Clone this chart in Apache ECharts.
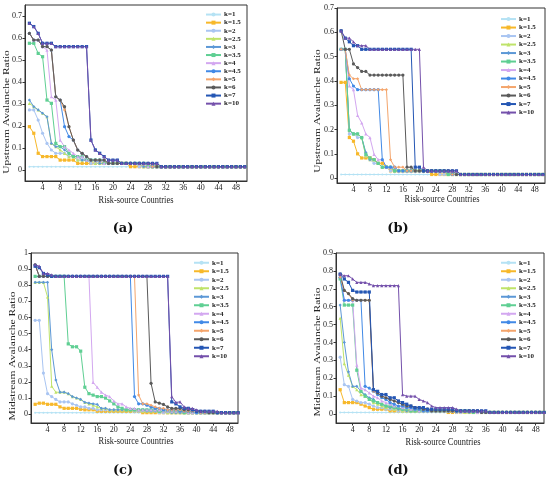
<!DOCTYPE html>
<html>
<head>
<meta charset="utf-8">
<script src="https://cdn.jsdelivr.net/npm/echarts/dist/echarts.min.js"></script>
<style>
  html, body { margin: 0; padding: 0; background: #fff; }
  #main { width: 550px; height: 485px; }
</style>
</head>
<body>
<div id="main"></div>
<script>
// legend names, colours and markers
const kLabels = ['k=1', 'k=1.5', 'k=2', 'k=2.5', 'k=3', 'k=3.5', 'k=4', 'k=4.5', 'k=5', 'k=6', 'k=7', 'k=10'];
const kColors = ['#b5e2f4', '#f7b82a', '#a9c5f2', '#bfe36a', '#5c98d6', '#5fcf93', '#d3a7f0', '#4189e6', '#f4a56c', '#5a5a5a', '#2456b4', '#7450ab'];
const kSymbols = ['circle', 'rect', 'circle', 'triangle', 'diamond', 'rect', 'triangle', 'circle', 'diamond', 'circle', 'rect', 'triangle'];

const countries = [1, 2, 3, 4, 5, 6, 7, 8, 9, 10,
  11, 12, 13, 14, 15, 16, 17, 18, 19, 20,
  21, 22, 23, 24, 25, 26, 27, 28, 29, 30,
  31, 32, 33, 34, 35, 36, 37, 38, 39, 40,
  41, 42, 43, 44, 45, 46, 47, 48, 49, 50];

const xTicks = [4, 8, 12, 16, 20, 24, 28, 32, 36, 40, 44, 48];
const upTicks = [0, 0.1, 0.2, 0.3, 0.4, 0.5, 0.6, 0.7];
const midTicksC = [0, 0.1, 0.2, 0.3, 0.4, 0.5, 0.6, 0.7, 0.8, 0.9, 1];
const midTicksD = [0, 0.1, 0.2, 0.3, 0.4, 0.5, 0.6, 0.7, 0.8, 0.9];

// ---- (a) upstream ----
const a_k1 = [0.015, 0.015, 0.015, 0.015, 0.015, 0.015, 0.015, 0.015, 0.015, 0.015,
  0.015, 0.015, 0.015, 0.015, 0.015, 0.015, 0.015, 0.015, 0.015, 0.015,
  0.015, 0.015, 0.015, 0.015, 0.015, 0.015, 0.015, 0.015, 0.015, 0.015,
  0.015, 0.015, 0.015, 0.015, 0.015, 0.015, 0.015, 0.015, 0.015, 0.015,
  0.015, 0.015, 0.015, 0.015, 0.015, 0.015, 0.015, 0.015, 0.015, 0.015];
const a_k15 = [0.197, 0.167, 0.076, 0.061, 0.061, 0.061, 0.061, 0.045, 0.045, 0.045,
  0.045, 0.03, 0.03, 0.03, 0.03, 0.03, 0.03, 0.03, 0.03, 0.03,
  0.03, 0.03, 0.03, 0.015, 0.015, 0.015, 0.015, 0.015, 0.015, 0.015,
  0.015, 0.015, 0.015, 0.015, 0.015, 0.015, 0.015, 0.015, 0.015, 0.015,
  0.015, 0.015, 0.015, 0.015, 0.015, 0.015, 0.015, 0.015, 0.015, 0.015];
const a_k2 = [0.273, 0.273, 0.227, 0.167, 0.121, 0.091, 0.076, 0.076, 0.076, 0.061,
  0.061, 0.045, 0.045, 0.045, 0.03, 0.03, 0.03, 0.03, 0.03, 0.03,
  0.03, 0.03, 0.03, 0.03, 0.03, 0.015, 0.015, 0.015, 0.015, 0.015,
  0.015, 0.015, 0.015, 0.015, 0.015, 0.015, 0.015, 0.015, 0.015, 0.015,
  0.015, 0.015, 0.015, 0.015, 0.015, 0.015, 0.015, 0.015, 0.015, 0.015];
const a_k25 = [0.303, 0.288, 0.273, 0.258, 0.242, 0.121, 0.106, 0.091, 0.076, 0.061,
  0.061, 0.045, 0.045, 0.045, 0.045, 0.03, 0.03, 0.03, 0.03, 0.03,
  0.03, 0.03, 0.03, 0.03, 0.03, 0.03, 0.015, 0.015, 0.015, 0.015,
  0.015, 0.015, 0.015, 0.015, 0.015, 0.015, 0.015, 0.015, 0.015, 0.015,
  0.015, 0.015, 0.015, 0.015, 0.015, 0.015, 0.015, 0.015, 0.015, 0.015];
const a_k3 = [0.318, 0.288, 0.273, 0.258, 0.242, 0.121, 0.106, 0.106, 0.091, 0.076,
  0.061, 0.061, 0.045, 0.045, 0.045, 0.045, 0.03, 0.03, 0.03, 0.03,
  0.03, 0.03, 0.03, 0.03, 0.03, 0.03, 0.015, 0.015, 0.015, 0.015,
  0.015, 0.015, 0.015, 0.015, 0.015, 0.015, 0.015, 0.015, 0.015, 0.015,
  0.015, 0.015, 0.015, 0.015, 0.015, 0.015, 0.015, 0.015, 0.015, 0.015];
const a_k35 = [0.576, 0.576, 0.53, 0.515, 0.318, 0.303, 0.121, 0.106, 0.106, 0.076,
  0.061, 0.061, 0.061, 0.045, 0.045, 0.045, 0.045, 0.03, 0.03, 0.03,
  0.03, 0.03, 0.03, 0.03, 0.03, 0.03, 0.03, 0.015, 0.015, 0.015,
  0.015, 0.015, 0.015, 0.015, 0.015, 0.015, 0.015, 0.015, 0.015, 0.015,
  0.015, 0.015, 0.015, 0.015, 0.015, 0.015, 0.015, 0.015, 0.015, 0.015];
const a_k4 = [0.621, 0.591, 0.591, 0.561, 0.545, 0.333, 0.318, 0.136, 0.106, 0.091,
  0.076, 0.061, 0.061, 0.045, 0.045, 0.045, 0.045, 0.03, 0.03, 0.03,
  0.03, 0.03, 0.03, 0.03, 0.03, 0.03, 0.03, 0.015, 0.015, 0.015,
  0.015, 0.015, 0.015, 0.015, 0.015, 0.015, 0.015, 0.015, 0.015, 0.015,
  0.015, 0.015, 0.015, 0.015, 0.015, 0.015, 0.015, 0.015, 0.015, 0.015];
const a_k45 = [0.621, 0.591, 0.591, 0.561, 0.561, 0.545, 0.333, 0.318, 0.197, 0.152,
  0.136, 0.091, 0.076, 0.061, 0.045, 0.045, 0.045, 0.045, 0.03, 0.03,
  0.03, 0.03, 0.03, 0.03, 0.03, 0.03, 0.03, 0.03, 0.015, 0.015,
  0.015, 0.015, 0.015, 0.015, 0.015, 0.015, 0.015, 0.015, 0.015, 0.015,
  0.015, 0.015, 0.015, 0.015, 0.015, 0.015, 0.015, 0.015, 0.015, 0.015];
const a_k5 = [0.621, 0.591, 0.591, 0.561, 0.561, 0.545, 0.333, 0.318, 0.273, 0.197,
  0.136, 0.091, 0.076, 0.061, 0.045, 0.045, 0.045, 0.045, 0.03, 0.03,
  0.03, 0.03, 0.03, 0.03, 0.03, 0.03, 0.03, 0.03, 0.015, 0.015,
  0.015, 0.015, 0.015, 0.015, 0.015, 0.015, 0.015, 0.015, 0.015, 0.015,
  0.015, 0.015, 0.015, 0.015, 0.015, 0.015, 0.015, 0.015, 0.015, 0.015];
const a_k6 = [0.621, 0.591, 0.591, 0.561, 0.561, 0.545, 0.333, 0.318, 0.288, 0.197,
  0.136, 0.091, 0.076, 0.061, 0.045, 0.045, 0.045, 0.045, 0.03, 0.03,
  0.03, 0.03, 0.03, 0.03, 0.03, 0.03, 0.03, 0.03, 0.03, 0.015,
  0.015, 0.015, 0.015, 0.015, 0.015, 0.015, 0.015, 0.015, 0.015, 0.015,
  0.015, 0.015, 0.015, 0.015, 0.015, 0.015, 0.015, 0.015, 0.015, 0.015];
const a_k7 = [0.667, 0.652, 0.621, 0.576, 0.576, 0.576, 0.561, 0.561, 0.561, 0.561,
  0.561, 0.561, 0.561, 0.561, 0.136, 0.091, 0.076, 0.061, 0.045, 0.045,
  0.045, 0.03, 0.03, 0.03, 0.03, 0.03, 0.03, 0.03, 0.03, 0.03,
  0.015, 0.015, 0.015, 0.015, 0.015, 0.015, 0.015, 0.015, 0.015, 0.015,
  0.015, 0.015, 0.015, 0.015, 0.015, 0.015, 0.015, 0.015, 0.015, 0.015];
const a_k10 = [0.667, 0.652, 0.621, 0.576, 0.576, 0.576, 0.561, 0.561, 0.561, 0.561,
  0.561, 0.561, 0.561, 0.561, 0.136, 0.091, 0.076, 0.061, 0.045, 0.045,
  0.045, 0.03, 0.03, 0.03, 0.03, 0.03, 0.03, 0.03, 0.03, 0.03,
  0.015, 0.015, 0.015, 0.015, 0.015, 0.015, 0.015, 0.015, 0.015, 0.015,
  0.015, 0.015, 0.015, 0.015, 0.015, 0.015, 0.015, 0.015, 0.015, 0.015];

// ---- (b) upstream ----
const b_k1 = [0.015, 0.015, 0.015, 0.015, 0.015, 0.015, 0.015, 0.015, 0.015, 0.015,
  0.015, 0.015, 0.015, 0.015, 0.015, 0.015, 0.015, 0.015, 0.015, 0.015,
  0.015, 0.015, 0.015, 0.015, 0.015, 0.015, 0.015, 0.015, 0.015, 0.015,
  0.015, 0.015, 0.015, 0.015, 0.015, 0.015, 0.015, 0.015, 0.015, 0.015,
  0.015, 0.015, 0.015, 0.015, 0.015, 0.015, 0.015, 0.015, 0.015, 0.015];
const b_k15 = [0.394, 0.394, 0.167, 0.152, 0.1, 0.083, 0.083, 0.083, 0.076, 0.061,
  0.061, 0.045, 0.03, 0.03, 0.03, 0.03, 0.03, 0.03, 0.03, 0.03,
  0.03, 0.03, 0.015, 0.015, 0.015, 0.015, 0.015, 0.015, 0.015, 0.015,
  0.015, 0.015, 0.015, 0.015, 0.015, 0.015, 0.015, 0.015, 0.015, 0.015,
  0.015, 0.015, 0.015, 0.015, 0.015, 0.015, 0.015, 0.015, 0.015, 0.015];
const b_k2 = [0.53, 0.53, 0.182, 0.182, 0.167, 0.167, 0.091, 0.076, 0.061, 0.061,
  0.045, 0.045, 0.03, 0.03, 0.03, 0.03, 0.03, 0.03, 0.03, 0.03,
  0.03, 0.03, 0.03, 0.03, 0.015, 0.015, 0.015, 0.015, 0.015, 0.015,
  0.015, 0.015, 0.015, 0.015, 0.015, 0.015, 0.015, 0.015, 0.015, 0.015,
  0.015, 0.015, 0.015, 0.015, 0.015, 0.015, 0.015, 0.015, 0.015, 0.015];
const b_k25 = [0.53, 0.53, 0.197, 0.182, 0.182, 0.167, 0.091, 0.076, 0.076, 0.061,
  0.045, 0.045, 0.045, 0.03, 0.03, 0.03, 0.03, 0.03, 0.03, 0.03,
  0.03, 0.03, 0.03, 0.03, 0.03, 0.03, 0.015, 0.015, 0.015, 0.015,
  0.015, 0.015, 0.015, 0.015, 0.015, 0.015, 0.015, 0.015, 0.015, 0.015,
  0.015, 0.015, 0.015, 0.015, 0.015, 0.015, 0.015, 0.015, 0.015, 0.015];
const b_k3 = [0.53, 0.53, 0.197, 0.182, 0.182, 0.167, 0.106, 0.076, 0.076, 0.061,
  0.045, 0.045, 0.045, 0.03, 0.03, 0.03, 0.03, 0.03, 0.03, 0.03,
  0.03, 0.03, 0.03, 0.03, 0.03, 0.03, 0.015, 0.015, 0.015, 0.015,
  0.015, 0.015, 0.015, 0.015, 0.015, 0.015, 0.015, 0.015, 0.015, 0.015,
  0.015, 0.015, 0.015, 0.015, 0.015, 0.015, 0.015, 0.015, 0.015, 0.015];
const b_k35 = [0.53, 0.53, 0.197, 0.182, 0.182, 0.167, 0.098, 0.083, 0.076, 0.061,
  0.045, 0.045, 0.045, 0.03, 0.03, 0.03, 0.03, 0.03, 0.03, 0.03,
  0.03, 0.03, 0.03, 0.03, 0.03, 0.03, 0.015, 0.015, 0.015, 0.015,
  0.015, 0.015, 0.015, 0.015, 0.015, 0.015, 0.015, 0.015, 0.015, 0.015,
  0.015, 0.015, 0.015, 0.015, 0.015, 0.015, 0.015, 0.015, 0.015, 0.015];
const b_k4 = [0.53, 0.53, 0.379, 0.364, 0.258, 0.227, 0.182, 0.167, 0.098, 0.076,
  0.076, 0.045, 0.045, 0.045, 0.03, 0.03, 0.03, 0.03, 0.03, 0.03,
  0.03, 0.03, 0.03, 0.03, 0.03, 0.03, 0.03, 0.015, 0.015, 0.015,
  0.015, 0.015, 0.015, 0.015, 0.015, 0.015, 0.015, 0.015, 0.015, 0.015,
  0.015, 0.015, 0.015, 0.015, 0.015, 0.015, 0.015, 0.015, 0.015, 0.015];
const b_k45 = [0.53, 0.53, 0.409, 0.379, 0.364, 0.364, 0.364, 0.364, 0.364, 0.364,
  0.076, 0.045, 0.045, 0.045, 0.03, 0.03, 0.03, 0.03, 0.03, 0.03,
  0.03, 0.03, 0.03, 0.03, 0.03, 0.03, 0.03, 0.015, 0.015, 0.015,
  0.015, 0.015, 0.015, 0.015, 0.015, 0.015, 0.015, 0.015, 0.015, 0.015,
  0.015, 0.015, 0.015, 0.015, 0.015, 0.015, 0.015, 0.015, 0.015, 0.015];
const b_k5 = [0.53, 0.53, 0.424, 0.409, 0.409, 0.364, 0.364, 0.364, 0.364, 0.364,
  0.364, 0.364, 0.076, 0.045, 0.045, 0.045, 0.03, 0.03, 0.03, 0.03,
  0.03, 0.03, 0.03, 0.03, 0.03, 0.03, 0.03, 0.015, 0.015, 0.015,
  0.015, 0.015, 0.015, 0.015, 0.015, 0.015, 0.015, 0.015, 0.015, 0.015,
  0.015, 0.015, 0.015, 0.015, 0.015, 0.015, 0.015, 0.015, 0.015, 0.015];
const b_k6 = [0.606, 0.53, 0.53, 0.47, 0.455, 0.439, 0.439, 0.424, 0.424, 0.424,
  0.424, 0.424, 0.424, 0.424, 0.424, 0.424, 0.045, 0.045, 0.03, 0.03,
  0.03, 0.03, 0.03, 0.03, 0.03, 0.03, 0.03, 0.03, 0.015, 0.015,
  0.015, 0.015, 0.015, 0.015, 0.015, 0.015, 0.015, 0.015, 0.015, 0.015,
  0.015, 0.015, 0.015, 0.015, 0.015, 0.015, 0.015, 0.015, 0.015, 0.015];
const b_k7 = [0.606, 0.576, 0.561, 0.545, 0.545, 0.53, 0.53, 0.53, 0.53, 0.53,
  0.53, 0.53, 0.53, 0.53, 0.53, 0.53, 0.53, 0.53, 0.045, 0.045,
  0.03, 0.03, 0.03, 0.03, 0.03, 0.03, 0.03, 0.03, 0.03, 0.015,
  0.015, 0.015, 0.015, 0.015, 0.015, 0.015, 0.015, 0.015, 0.015, 0.015,
  0.015, 0.015, 0.015, 0.015, 0.015, 0.015, 0.015, 0.015, 0.015, 0.015];
const b_k10 = [0.606, 0.576, 0.576, 0.561, 0.545, 0.545, 0.545, 0.53, 0.53, 0.53,
  0.53, 0.53, 0.53, 0.53, 0.53, 0.53, 0.53, 0.53, 0.53, 0.53,
  0.045, 0.03, 0.03, 0.03, 0.03, 0.03, 0.03, 0.03, 0.03, 0.015,
  0.015, 0.015, 0.015, 0.015, 0.015, 0.015, 0.015, 0.015, 0.015, 0.015,
  0.015, 0.015, 0.015, 0.015, 0.015, 0.015, 0.015, 0.015, 0.015, 0.015];

// ---- (c) midstream ----
const c_k1 = [0.009, 0.009, 0.009, 0.009, 0.009, 0.009, 0.009, 0.009, 0.009, 0.009,
  0.009, 0.009, 0.009, 0.009, 0.009, 0.009, 0.009, 0.009, 0.009, 0.009,
  0.009, 0.009, 0.009, 0.009, 0.009, 0.009, 0.009, 0.009, 0.009, 0.009,
  0.009, 0.009, 0.009, 0.009, 0.009, 0.009, 0.009, 0.009, 0.009, 0.009,
  0.009, 0.009, 0.009, 0.009, 0.009, 0.009, 0.009, 0.009, 0.009, 0.009];
const c_k15 = [0.061, 0.068, 0.068, 0.061, 0.061, 0.061, 0.045, 0.036, 0.036, 0.036,
  0.036, 0.03, 0.027, 0.027, 0.027, 0.018, 0.018, 0.018, 0.018, 0.018,
  0.018, 0.018, 0.018, 0.018, 0.018, 0.018, 0.009, 0.009, 0.009, 0.009,
  0.009, 0.009, 0.009, 0.009, 0.009, 0.009, 0.009, 0.009, 0.009, 0.009,
  0.009, 0.009, 0.009, 0.009, 0.009, 0.009, 0.009, 0.009, 0.009, 0.009];
const c_k2 = [0.582, 0.582, 0.255, 0.127, 0.109, 0.091, 0.076, 0.076, 0.076, 0.064,
  0.055, 0.045, 0.045, 0.036, 0.036, 0.027, 0.027, 0.027, 0.027, 0.027,
  0.027, 0.027, 0.027, 0.027, 0.018, 0.018, 0.018, 0.018, 0.018, 0.018,
  0.009, 0.009, 0.009, 0.009, 0.009, 0.009, 0.009, 0.009, 0.009, 0.009,
  0.009, 0.009, 0.009, 0.009, 0.009, 0.009, 0.009, 0.009, 0.009, 0.009];
const c_k25 = [0.818, 0.818, 0.818, 0.727, 0.173, 0.136, 0.136, 0.136, 0.127, 0.109,
  0.1, 0.091, 0.073, 0.064, 0.055, 0.045, 0.036, 0.036, 0.027, 0.027,
  0.027, 0.027, 0.027, 0.027, 0.027, 0.027, 0.018, 0.018, 0.018, 0.018,
  0.018, 0.018, 0.009, 0.009, 0.009, 0.009, 0.009, 0.009, 0.009, 0.009,
  0.009, 0.009, 0.009, 0.009, 0.009, 0.009, 0.009, 0.009, 0.009, 0.009];
const c_k3 = [0.818, 0.818, 0.818, 0.818, 0.4, 0.212, 0.136, 0.136, 0.127, 0.109,
  0.1, 0.091, 0.073, 0.068, 0.064, 0.06, 0.036, 0.036, 0.027, 0.027,
  0.027, 0.027, 0.027, 0.027, 0.027, 0.027, 0.027, 0.018, 0.018, 0.018,
  0.018, 0.018, 0.018, 0.009, 0.009, 0.009, 0.009, 0.009, 0.009, 0.009,
  0.009, 0.009, 0.009, 0.009, 0.009, 0.009, 0.009, 0.009, 0.009, 0.009];
const c_k35 = [0.855, 0.855, 0.855, 0.855, 0.855, 0.855, 0.855, 0.855, 0.436, 0.418,
  0.418, 0.391, 0.167, 0.127, 0.118, 0.109, 0.109, 0.1, 0.082, 0.064,
  0.045, 0.036, 0.027, 0.027, 0.027, 0.027, 0.027, 0.027, 0.027, 0.027,
  0.018, 0.018, 0.018, 0.018, 0.018, 0.018, 0.009, 0.009, 0.009, 0.009,
  0.009, 0.009, 0.009, 0.009, 0.009, 0.009, 0.009, 0.009, 0.009, 0.009];
const c_k4 = [0.927, 0.855, 0.855, 0.855, 0.855, 0.855, 0.855, 0.855, 0.855, 0.855,
  0.855, 0.855, 0.855, 0.855, 0.197, 0.167, 0.136, 0.118, 0.109, 0.082,
  0.064, 0.064, 0.045, 0.036, 0.036, 0.027, 0.027, 0.027, 0.027, 0.027,
  0.027, 0.018, 0.018, 0.018, 0.018, 0.018, 0.018, 0.009, 0.009, 0.009,
  0.009, 0.009, 0.009, 0.009, 0.009, 0.009, 0.009, 0.009, 0.009, 0.009];
const c_k45 = [0.927, 0.855, 0.855, 0.855, 0.855, 0.855, 0.855, 0.855, 0.855, 0.855,
  0.855, 0.855, 0.855, 0.855, 0.855, 0.855, 0.855, 0.855, 0.855, 0.855,
  0.855, 0.855, 0.855, 0.855, 0.109, 0.064, 0.064, 0.055, 0.045, 0.036,
  0.036, 0.027, 0.027, 0.027, 0.027, 0.018, 0.018, 0.018, 0.018, 0.009,
  0.009, 0.009, 0.009, 0.009, 0.009, 0.009, 0.009, 0.009, 0.009, 0.009];
const c_k5 = [0.927, 0.855, 0.855, 0.855, 0.855, 0.855, 0.855, 0.855, 0.855, 0.855,
  0.855, 0.855, 0.855, 0.855, 0.855, 0.855, 0.855, 0.855, 0.855, 0.855,
  0.855, 0.855, 0.855, 0.855, 0.855, 0.118, 0.064, 0.064, 0.055, 0.045,
  0.036, 0.036, 0.027, 0.027, 0.027, 0.027, 0.018, 0.018, 0.018, 0.018,
  0.009, 0.009, 0.009, 0.009, 0.009, 0.009, 0.009, 0.009, 0.009, 0.009];
const c_k6 = [0.927, 0.855, 0.855, 0.855, 0.855, 0.855, 0.855, 0.855, 0.855, 0.855,
  0.855, 0.855, 0.855, 0.855, 0.855, 0.855, 0.855, 0.855, 0.855, 0.855,
  0.855, 0.855, 0.855, 0.855, 0.855, 0.855, 0.855, 0.855, 0.191, 0.076,
  0.068, 0.06, 0.045, 0.036, 0.036, 0.036, 0.027, 0.027, 0.027, 0.018,
  0.018, 0.018, 0.009, 0.009, 0.009, 0.009, 0.009, 0.009, 0.009, 0.009];
const c_k7 = [0.918, 0.909, 0.873, 0.864, 0.855, 0.855, 0.855, 0.855, 0.855, 0.855,
  0.855, 0.855, 0.855, 0.855, 0.855, 0.855, 0.855, 0.855, 0.855, 0.855,
  0.855, 0.855, 0.855, 0.855, 0.855, 0.855, 0.855, 0.855, 0.855, 0.855,
  0.855, 0.855, 0.855, 0.076, 0.064, 0.045, 0.036, 0.036, 0.027, 0.018,
  0.018, 0.018, 0.018, 0.018, 0.009, 0.009, 0.009, 0.009, 0.009, 0.009];
const c_k10 = [0.927, 0.918, 0.873, 0.873, 0.864, 0.855, 0.855, 0.855, 0.855, 0.855,
  0.855, 0.855, 0.855, 0.855, 0.855, 0.855, 0.855, 0.855, 0.855, 0.855,
  0.855, 0.855, 0.855, 0.855, 0.855, 0.855, 0.855, 0.855, 0.855, 0.855,
  0.855, 0.855, 0.855, 0.109, 0.073, 0.076, 0.045, 0.036, 0.036, 0.027,
  0.018, 0.018, 0.018, 0.018, 0.018, 0.009, 0.009, 0.009, 0.009, 0.009];

// ---- (d) midstream ----
const d_k1 = [0.009, 0.009, 0.009, 0.009, 0.009, 0.009, 0.009, 0.009, 0.009, 0.009,
  0.009, 0.009, 0.009, 0.009, 0.009, 0.009, 0.009, 0.009, 0.009, 0.009,
  0.009, 0.009, 0.009, 0.009, 0.009, 0.009, 0.009, 0.009, 0.009, 0.009,
  0.009, 0.009, 0.009, 0.009, 0.009, 0.009, 0.009, 0.009, 0.009, 0.009,
  0.009, 0.009, 0.009, 0.009, 0.009, 0.009, 0.009, 0.009, 0.009, 0.009];
const d_k15 = [0.136, 0.064, 0.064, 0.064, 0.064, 0.055, 0.045, 0.036, 0.027, 0.027,
  0.027, 0.027, 0.018, 0.018, 0.018, 0.018, 0.018, 0.018, 0.018, 0.018,
  0.018, 0.018, 0.018, 0.018, 0.018, 0.018, 0.009, 0.009, 0.009, 0.009,
  0.009, 0.009, 0.009, 0.009, 0.009, 0.009, 0.009, 0.009, 0.009, 0.009,
  0.009, 0.009, 0.009, 0.009, 0.009, 0.009, 0.009, 0.009, 0.009, 0.009];
const d_k2 = [0.318, 0.164, 0.155, 0.082, 0.073, 0.064, 0.064, 0.055, 0.045, 0.036,
  0.036, 0.027, 0.027, 0.027, 0.018, 0.018, 0.018, 0.018, 0.018, 0.018,
  0.018, 0.018, 0.018, 0.018, 0.018, 0.018, 0.018, 0.018, 0.009, 0.009,
  0.009, 0.009, 0.009, 0.009, 0.009, 0.009, 0.009, 0.009, 0.009, 0.009,
  0.009, 0.009, 0.009, 0.009, 0.009, 0.009, 0.009, 0.009, 0.009, 0.009];
const d_k25 = [0.536, 0.282, 0.218, 0.155, 0.136, 0.109, 0.1, 0.082, 0.064, 0.055,
  0.045, 0.036, 0.036, 0.027, 0.027, 0.018, 0.018, 0.018, 0.018, 0.018,
  0.018, 0.018, 0.018, 0.018, 0.018, 0.018, 0.018, 0.018, 0.018, 0.018,
  0.009, 0.009, 0.009, 0.009, 0.009, 0.009, 0.009, 0.009, 0.009, 0.009,
  0.009, 0.009, 0.009, 0.009, 0.009, 0.009, 0.009, 0.009, 0.009, 0.009];
const d_k3 = [0.609, 0.4, 0.236, 0.155, 0.155, 0.127, 0.109, 0.091, 0.082, 0.064,
  0.055, 0.045, 0.036, 0.036, 0.027, 0.027, 0.018, 0.018, 0.018, 0.018,
  0.018, 0.018, 0.018, 0.018, 0.018, 0.018, 0.018, 0.018, 0.018, 0.018,
  0.018, 0.009, 0.009, 0.009, 0.009, 0.009, 0.009, 0.009, 0.009, 0.009,
  0.009, 0.009, 0.009, 0.009, 0.009, 0.009, 0.009, 0.009, 0.009, 0.009];
const d_k35 = [0.755, 0.609, 0.609, 0.609, 0.245, 0.127, 0.1, 0.082, 0.073, 0.064,
  0.055, 0.045, 0.045, 0.036, 0.036, 0.027, 0.027, 0.018, 0.018, 0.018,
  0.018, 0.018, 0.018, 0.018, 0.018, 0.018, 0.018, 0.018, 0.018, 0.018,
  0.018, 0.018, 0.009, 0.009, 0.009, 0.009, 0.009, 0.009, 0.009, 0.009,
  0.009, 0.009, 0.009, 0.009, 0.009, 0.009, 0.009, 0.009, 0.009, 0.009];
const d_k4 = [0.782, 0.636, 0.636, 0.636, 0.273, 0.145, 0.136, 0.118, 0.1, 0.091,
  0.073, 0.064, 0.055, 0.045, 0.045, 0.036, 0.036, 0.027, 0.027, 0.018,
  0.018, 0.018, 0.018, 0.018, 0.018, 0.018, 0.018, 0.018, 0.018, 0.018,
  0.018, 0.018, 0.018, 0.009, 0.009, 0.009, 0.009, 0.009, 0.009, 0.009,
  0.009, 0.009, 0.009, 0.009, 0.009, 0.009, 0.009, 0.009, 0.009, 0.009];
const d_k45 = [0.764, 0.636, 0.636, 0.636, 0.636, 0.636, 0.155, 0.145, 0.127, 0.109,
  0.091, 0.082, 0.064, 0.055, 0.045, 0.045, 0.036, 0.036, 0.027, 0.027,
  0.018, 0.018, 0.018, 0.018, 0.018, 0.018, 0.018, 0.018, 0.018, 0.018,
  0.018, 0.018, 0.018, 0.018, 0.009, 0.009, 0.009, 0.009, 0.009, 0.009,
  0.009, 0.009, 0.009, 0.009, 0.009, 0.009, 0.009, 0.009, 0.009, 0.009];
const d_k5 = [0.764, 0.691, 0.673, 0.636, 0.636, 0.636, 0.636, 0.636, 0.127, 0.118,
  0.1, 0.091, 0.082, 0.073, 0.064, 0.055, 0.045, 0.045, 0.036, 0.036,
  0.027, 0.027, 0.018, 0.018, 0.018, 0.018, 0.018, 0.018, 0.018, 0.018,
  0.018, 0.018, 0.018, 0.018, 0.009, 0.009, 0.009, 0.009, 0.009, 0.009,
  0.009, 0.009, 0.009, 0.009, 0.009, 0.009, 0.009, 0.009, 0.009, 0.009];
const d_k6 = [0.782, 0.691, 0.673, 0.645, 0.636, 0.636, 0.636, 0.636, 0.136, 0.118,
  0.1, 0.091, 0.082, 0.073, 0.064, 0.055, 0.045, 0.045, 0.036, 0.036,
  0.027, 0.027, 0.018, 0.018, 0.018, 0.018, 0.018, 0.018, 0.018, 0.018,
  0.018, 0.018, 0.018, 0.018, 0.009, 0.009, 0.009, 0.009, 0.009, 0.009,
  0.009, 0.009, 0.009, 0.009, 0.009, 0.009, 0.009, 0.009, 0.009, 0.009];
const d_k7 = [0.782, 0.755, 0.736, 0.691, 0.682, 0.682, 0.682, 0.682, 0.136, 0.127,
  0.109, 0.109, 0.091, 0.091, 0.073, 0.064, 0.055, 0.045, 0.036, 0.036,
  0.036, 0.027, 0.027, 0.027, 0.027, 0.027, 0.027, 0.027, 0.018, 0.018,
  0.018, 0.018, 0.018, 0.018, 0.018, 0.018, 0.009, 0.009, 0.009, 0.009,
  0.009, 0.009, 0.009, 0.009, 0.009, 0.009, 0.009, 0.009, 0.009, 0.009];
const d_k10 = [0.782, 0.773, 0.773, 0.755, 0.736, 0.736, 0.736, 0.727, 0.718, 0.718,
  0.718, 0.718, 0.718, 0.718, 0.718, 0.109, 0.1, 0.1, 0.1, 0.082,
  0.073, 0.064, 0.045, 0.036, 0.036, 0.036, 0.036, 0.036, 0.027, 0.018,
  0.018, 0.018, 0.018, 0.018, 0.018, 0.018, 0.009, 0.009, 0.009, 0.009,
  0.009, 0.009, 0.009, 0.009, 0.009, 0.009, 0.009, 0.009, 0.009, 0.009];

const panelA = [a_k1, a_k15, a_k2, a_k25, a_k3, a_k35, a_k4, a_k45, a_k5, a_k6, a_k7, a_k10];
const panelB = [b_k1, b_k15, b_k2, b_k25, b_k3, b_k35, b_k4, b_k45, b_k5, b_k6, b_k7, b_k10];
const panelC = [c_k1, c_k15, c_k2, c_k25, c_k3, c_k35, c_k4, c_k45, c_k5, c_k6, c_k7, c_k10];
const panelD = [d_k1, d_k15, d_k2, d_k25, d_k3, d_k35, d_k4, d_k45, d_k5, d_k6, d_k7, d_k10];

const serif = 'Liberation Serif';
const axisColor = '#333';

// one entry per sub-figure
const panels = [
  { data: panelA, grid: { left: 25, top: 5, width: 222, height: 176 }, xMax: 50.5, yMin: -0.05, yMax: 0.75, yTicks: upTicks,
    yTitle: 'Upstream Avalanche Ratio', yt: [7, 112], xt: [136, 200], tag: '(a)', tg: [123, 229], legend: [205, 10.5, 8.1] },
  { data: panelB, grid: { left: 337, top: 8, width: 208, height: 175 }, xMax: 50.5, yMin: -0.02, yMax: 0.7, yTicks: upTicks,
    yTitle: 'Upstream Avalanche Ratio', yt: [318, 111], xt: [442, 199], tag: '(b)', tg: [398, 229], legend: [500, 14.8, 8.5] },
  { data: panelC, grid: { left: 31, top: 253, width: 207, height: 170 }, xMax: 50, yMin: -0.055, yMax: 1, yTicks: midTicksC,
    yTitle: 'Midstream Avalanche Ratio', yt: [13, 356], xt: [136, 441.5], tag: '(c)', tg: [123, 471], legend: [193, 258.5, 8.5] },
  { data: panelD, grid: { left: 336, top: 253, width: 208, height: 170 }, xMax: 50, yMin: -0.05, yMax: 0.9, yTicks: midTicksD,
    yTitle: 'Midstream Avalanche Ratio', yt: [318, 352], xt: [443, 442], tag: '(d)', tg: [398, 471], legend: [500, 258.5, 8.5] }
];

const grids = [], xAxes = [], yAxes = [], legends = [], series = [], texts = [];

panels.forEach((p, pi) => {
  grids.push(Object.assign({ show: true, borderColor: axisColor, borderWidth: 1, backgroundColor: 'transparent', containLabel: false, outerBoundsMode: 'none' }, p.grid));

  xAxes.push({
    type: 'value', gridIndex: pi, min: 0, max: p.xMax,
    axisLine: { show: true, onZero: false, lineStyle: { color: axisColor, width: 1 } },
    axisTick: { show: true, customValues: xTicks, length: 2.5, lineStyle: { color: axisColor } },
    axisLabel: { customValues: xTicks, fontSize: 8, fontFamily: serif, color: '#222', margin: 3 },
    splitLine: { show: false }
  });
  yAxes.push({
    type: 'value', gridIndex: pi, min: p.yMin, max: p.yMax,
    axisLine: { show: true, onZero: false, lineStyle: { color: axisColor, width: 1 } },
    axisTick: { show: true, customValues: p.yTicks, length: 2.5, lineStyle: { color: axisColor } },
    axisLabel: { customValues: p.yTicks, fontSize: 8, fontFamily: serif, color: '#222', margin: 3, formatter: v => String(v) },
    splitLine: { show: false }
  });

  legends.push({
    orient: 'vertical', left: p.legend[0], top: p.legend[1], padding: 0, itemGap: 0,
    itemWidth: 15, itemHeight: 5, data: kLabels, selectedMode: false,
    textStyle: { fontSize: 7, fontWeight: 'bold', fontFamily: serif, color: '#222', lineHeight: p.legend[2], padding: [0, 0, 0, -2] }
  });

  p.data.forEach((vals, i) => {
    series.push({
      type: 'line', name: kLabels[i], xAxisIndex: pi, yAxisIndex: pi,
      data: countries.map((c, j) => [c, vals[j]]),
      symbol: kSymbols[i], symbolSize: i === 0 ? 2 : 3.2,
      lineStyle: { color: kColors[i], width: 1 },
      itemStyle: { color: kColors[i] },
      emphasis: { disabled: true },
      animation: false
    });
  });

  texts.push({
    type: 'text', x: p.yt[0], y: p.yt[1], rotation: Math.PI / 2, scaleY: 0.8,
    style: { text: p.yTitle, fontSize: 11.5, fontFamily: serif, fill: '#222', align: 'center', verticalAlign: 'middle' }
  });
  texts.push({
    type: 'text', x: p.xt[0], y: p.xt[1], scaleX: 0.8,
    style: { text: 'Risk-source Countries', fontSize: 10.5, fontFamily: serif, fill: '#222', align: 'center', verticalAlign: 'middle' }
  });
  texts.push({
    type: 'text', x: p.tg[0], y: p.tg[1],
    style: { text: p.tag, fontSize: 13, fontWeight: 'bold', fontFamily: 'DejaVu Serif', fill: '#111', align: 'center', verticalAlign: 'middle' }
  });
});

const chart = echarts.init(document.getElementById('main'), null, { renderer: 'canvas' });
chart.setOption({
  backgroundColor: '#fff',
  animation: false,
  grid: grids,
  xAxis: xAxes,
  yAxis: yAxes,
  legend: legends,
  series: series,
  graphic: texts
});
</script>
</body>
</html>
